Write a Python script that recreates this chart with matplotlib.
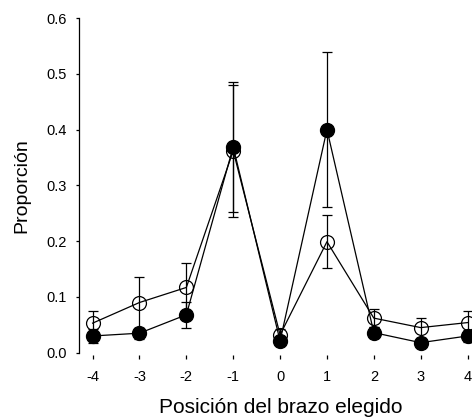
import numpy as np
import matplotlib
matplotlib.use('Agg')
import matplotlib.pyplot as plt

plt.rcParams['font.family'] = ['Liberation Sans', 'DejaVu Sans']

posiciones = [-4, -3, -2, -1, 0, 1, 2, 3, 4]

# open circles
abiertos = [0.053, 0.090, 0.117, 0.362, 0.032, 0.199, 0.062, 0.045, 0.054]
abiertos_err = [0.022, 0.045, 0.043, 0.118, 0.010, 0.047, 0.016, 0.018, 0.021]

# filled circles
llenos = [0.030, 0.035, 0.068, 0.369, 0.021, 0.400, 0.036, 0.018, 0.030]
llenos_err = [0.012, 0.010, 0.023, 0.117, 0.008, 0.139, 0.010, 0.008, 0.010]

fig = plt.figure(figsize=(4.72, 4.18), dpi=100)
ax = fig.add_axes([0.1674, 0.1562, 0.853, 0.8007])

ax.errorbar(posiciones, abiertos, yerr=abiertos_err, fmt='-o', color='black',
            mfc='none', mec='black', ms=10, mew=0.9, lw=0.9, elinewidth=0.9,
            capsize=3.8, capthick=0.9, clip_on=False, zorder=2)
ax.errorbar(posiciones, llenos, yerr=llenos_err, fmt='-o', color='black',
            mfc='black', mec='black', ms=10, lw=0.9, elinewidth=0.9,
            capsize=3.8, capthick=0.9, clip_on=False, zorder=3)

ax.set_xlim(-4.29, 4.3)
ax.set_ylim(0, 0.6)
ax.set_xticks(posiciones)
ax.set_xticklabels([str(p) for p in posiciones])
ax.set_yticks(np.arange(0, 0.61, 0.1))
ax.set_yticklabels([f'{v:.1f}' for v in np.arange(0, 0.61, 0.1)])

for s in ['top', 'right']:
    ax.spines[s].set_visible(False)
ax.spines['bottom'].set_position(('outward', 1.5))
ax.spines['bottom'].set_color('none')
ax.spines['left'].set_linewidth(0.9)

ax.tick_params(axis='y', direction='out', length=2.5, width=0.9, pad=6,
               labelsize=10.5, colors='black')
ax.tick_params(axis='x', direction='out', length=3, width=0.9, pad=8,
               labelsize=10.5, colors='black')

ax.set_xlabel('Posición del brazo elegido', fontsize=15, labelpad=10)
ax.set_ylabel('Proporción', fontsize=14, labelpad=12)

fig.savefig('out.png', dpi=100)
